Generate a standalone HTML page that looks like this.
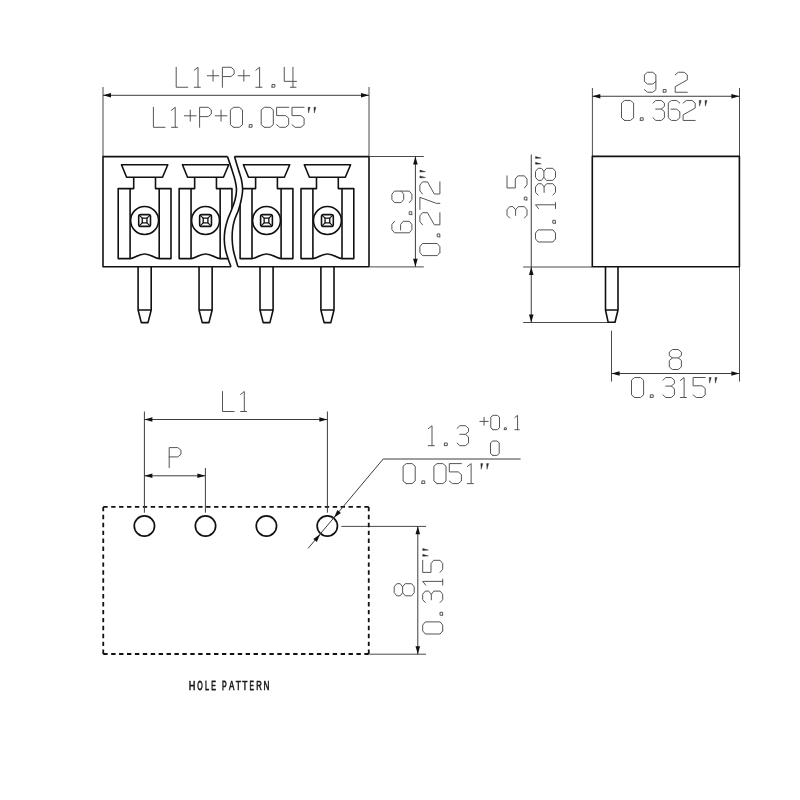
<!DOCTYPE html>
<html><head><meta charset="utf-8"><title>Drawing</title>
<style>
html,body{margin:0;padding:0;background:#fff;}
body{width:800px;height:800px;overflow:hidden;font-family:"Liberation Sans",sans-serif;}
svg{display:block;will-change:transform;}
</style></head><body>
<svg width="800" height="800" viewBox="0 0 800 800">
<rect width="800" height="800" fill="#fff"/>
<line x1="103.00" y1="87.00" x2="103.00" y2="156.00" stroke="#4a4a4a" stroke-width="1.00" />
<line x1="369.00" y1="87.00" x2="369.00" y2="156.00" stroke="#4a4a4a" stroke-width="1.00" />
<line x1="370.00" y1="156.50" x2="423.80" y2="156.50" stroke="#4a4a4a" stroke-width="1.00" />
<line x1="370.00" y1="266.90" x2="423.80" y2="266.90" stroke="#4a4a4a" stroke-width="1.00" />
<line x1="592.40" y1="88.00" x2="592.40" y2="156.00" stroke="#4a4a4a" stroke-width="1.00" />
<line x1="739.50" y1="88.00" x2="739.50" y2="381.50" stroke="#4a4a4a" stroke-width="1.00" />
<line x1="523.20" y1="267.00" x2="592.00" y2="267.00" stroke="#4a4a4a" stroke-width="1.00" />
<line x1="523.20" y1="322.50" x2="608.00" y2="322.50" stroke="#4a4a4a" stroke-width="1.00" />
<line x1="611.50" y1="330.70" x2="611.50" y2="381.50" stroke="#4a4a4a" stroke-width="1.00" />
<line x1="341.30" y1="526.40" x2="426.10" y2="526.40" stroke="#4a4a4a" stroke-width="1.00" />
<line x1="369.50" y1="654.20" x2="426.10" y2="654.20" stroke="#4a4a4a" stroke-width="1.00" />
<defs>
<clipPath id="cl"><path d="M0 100 L227.50 100 L227.50 156.60 C228.25 158.83 230.75 166.10 232.00 170.00C233.25 173.90 234.25 176.67 235.00 180.00C235.75 183.33 236.50 186.67 236.50 190.00C236.50 193.33 235.83 196.67 235.00 200.00C234.17 203.33 232.75 206.67 231.50 210.00C230.25 213.33 228.58 216.67 227.50 220.00C226.42 223.33 225.53 226.67 225.00 230.00C224.47 233.33 224.22 236.67 224.30 240.00C224.38 243.33 224.88 246.92 225.50 250.00C226.12 253.08 227.08 255.70 228.00 258.50C228.92 261.30 230.50 265.42 231.00 266.80 L231.00 340 L0 340 Z"/></clipPath>
<clipPath id="cr"><path d="M500 100 L234.50 100 L234.50 156.60 C235.17 158.83 237.33 166.10 238.50 170.00C239.67 173.90 240.82 176.67 241.50 180.00C242.18 183.33 242.65 186.67 242.60 190.00C242.55 193.33 241.88 196.67 241.20 200.00C240.52 203.33 239.62 206.67 238.50 210.00C237.38 213.33 235.50 216.67 234.50 220.00C233.50 223.33 232.88 226.67 232.50 230.00C232.12 233.33 232.07 236.67 232.20 240.00C232.33 243.33 232.75 246.92 233.30 250.00C233.85 253.08 234.72 255.70 235.50 258.50C236.28 261.30 237.58 265.42 238.00 266.80 L238.00 340 L500 340 Z"/></clipPath>
</defs>
<g fill="none" stroke="#111" stroke-width="1.60" stroke-linejoin="round">
<g clip-path="url(#cl)">
<path d="M260 156.6 L103 156.6 L103 266.8 L260 266.8"/>
<path d="M121.50 164.8 L167.80 164.8 L162.50 177.2 L126.60 177.2 Z"/><path d="M133.70 177.2 L133.70 188.6 L118.20 188.6 L118.20 258.6 L130.10 258.6 C134.20 258.6 138.00 254 144.60 254 C151.20 254 155.00 258.6 159.20 258.6 L171.00 258.6 L171.00 188.6 L155.50 188.6 L155.50 177.2"/><path d="M130.10 188.6 L130.10 258.6 M159.20 188.6 L159.20 258.6"/><circle cx="144.60" cy="220.5" r="13.95"/><rect x="138.70" y="214.60" width="11.80" height="11.80" rx="2.00"/><rect x="142.25" y="218.15" width="4.70" height="4.70" stroke-width="1.35"/><path d="M139.40 215.30 L142.25 218.15 M149.80 215.30 L146.95 218.15 M149.80 225.70 L146.95 222.85 M139.40 225.70 L142.25 222.85" stroke-width="1.2"/><path d="M138.10 266.8 L138.10 310 L141.30 322.6 L148.00 322.6 L151.20 310 L151.20 266.8 M138.10 310 L151.20 310"/>
<path d="M182.45 164.8 L228.75 164.8 L223.45 177.2 L187.55 177.2 Z"/><path d="M194.65 177.2 L194.65 188.6 L179.15 188.6 L179.15 258.6 L191.05 258.6 C195.15 258.6 198.95 254 205.55 254 C212.15 254 215.95 258.6 220.15 258.6 L231.95 258.6 L231.95 188.6 L216.45 188.6 L216.45 177.2"/><path d="M191.05 188.6 L191.05 258.6 M220.15 188.6 L220.15 258.6"/><circle cx="205.55" cy="220.5" r="13.95"/><rect x="199.65" y="214.60" width="11.80" height="11.80" rx="2.00"/><rect x="203.20" y="218.15" width="4.70" height="4.70" stroke-width="1.35"/><path d="M200.35 215.30 L203.20 218.15 M210.75 215.30 L207.90 218.15 M210.75 225.70 L207.90 222.85 M200.35 225.70 L203.20 222.85" stroke-width="1.2"/><path d="M199.05 266.8 L199.05 310 L202.25 322.6 L208.95 322.6 L212.15 310 L212.15 266.8 M199.05 310 L212.15 310"/>
</g>
<g clip-path="url(#cr)">
<path d="M220 156.6 L369 156.6 L369 266.8 L220 266.8"/>
<path d="M243.40 164.8 L289.70 164.8 L284.40 177.2 L248.50 177.2 Z"/><path d="M255.60 177.2 L255.60 188.6 L240.10 188.6 L240.10 258.6 L252.00 258.6 C256.10 258.6 259.90 254 266.50 254 C273.10 254 276.90 258.6 281.10 258.6 L292.90 258.6 L292.90 188.6 L277.40 188.6 L277.40 177.2"/><path d="M252.00 188.6 L252.00 258.6 M281.10 188.6 L281.10 258.6"/><circle cx="266.50" cy="220.5" r="13.95"/><rect x="260.60" y="214.60" width="11.80" height="11.80" rx="2.00"/><rect x="264.15" y="218.15" width="4.70" height="4.70" stroke-width="1.35"/><path d="M261.30 215.30 L264.15 218.15 M271.70 215.30 L268.85 218.15 M271.70 225.70 L268.85 222.85 M261.30 225.70 L264.15 222.85" stroke-width="1.2"/><path d="M260.00 266.8 L260.00 310 L263.20 322.6 L269.90 322.6 L273.10 310 L273.10 266.8 M260.00 310 L273.10 310"/>
<path d="M304.30 164.8 L350.60 164.8 L345.30 177.2 L309.40 177.2 Z"/><path d="M316.50 177.2 L316.50 188.6 L301.00 188.6 L301.00 258.6 L312.90 258.6 C317.00 258.6 320.80 254 327.40 254 C334.00 254 337.80 258.6 342.00 258.6 L353.80 258.6 L353.80 188.6 L338.30 188.6 L338.30 177.2"/><path d="M312.90 188.6 L312.90 258.6 M342.00 188.6 L342.00 258.6"/><circle cx="327.40" cy="220.5" r="13.95"/><rect x="321.50" y="214.60" width="11.80" height="11.80" rx="2.00"/><rect x="325.05" y="218.15" width="4.70" height="4.70" stroke-width="1.35"/><path d="M322.20 215.30 L325.05 218.15 M332.60 215.30 L329.75 218.15 M332.60 225.70 L329.75 222.85 M322.20 225.70 L325.05 222.85" stroke-width="1.2"/><path d="M320.90 266.8 L320.90 310 L324.10 322.6 L330.80 322.6 L334.00 310 L334.00 266.8 M320.90 310 L334.00 310"/>
</g>
<path d="M227.50 156.60C228.25 158.83 230.75 166.10 232.00 170.00C233.25 173.90 234.25 176.67 235.00 180.00C235.75 183.33 236.50 186.67 236.50 190.00C236.50 193.33 235.83 196.67 235.00 200.00C234.17 203.33 232.75 206.67 231.50 210.00C230.25 213.33 228.58 216.67 227.50 220.00C226.42 223.33 225.53 226.67 225.00 230.00C224.47 233.33 224.22 236.67 224.30 240.00C224.38 243.33 224.88 246.92 225.50 250.00C226.12 253.08 227.08 255.70 228.00 258.50C228.92 261.30 230.50 265.42 231.00 266.80"/>
<path d="M234.50 156.60C235.17 158.83 237.33 166.10 238.50 170.00C239.67 173.90 240.82 176.67 241.50 180.00C242.18 183.33 242.65 186.67 242.60 190.00C242.55 193.33 241.88 196.67 241.20 200.00C240.52 203.33 239.62 206.67 238.50 210.00C237.38 213.33 235.50 216.67 234.50 220.00C233.50 223.33 232.88 226.67 232.50 230.00C232.12 233.33 232.07 236.67 232.20 240.00C232.33 243.33 232.75 246.92 233.30 250.00C233.85 253.08 234.72 255.70 235.50 258.50C236.28 261.30 237.58 265.42 238.00 266.80"/>
</g>
<line x1="103.00" y1="95.30" x2="369.00" y2="95.30" stroke="#3c3c3c" stroke-width="1.00" />
<path d="M103.00 95.30 L111.00 93.00 L111.00 97.60 Z" fill="#111"/>
<path d="M369.00 95.30 L361.00 97.60 L361.00 93.00 Z" fill="#111"/>
<g transform="translate(176.20 87.25) rotate(0)"><path d="M0.00 -20.00L0.00 0.00L11.62 0.00M18.06 -17.00L21.81 -20.00L21.81 0.00M18.06 0.00L24.11 0.00M31.04 -11.50L42.66 -11.50M36.85 -6.20L36.85 -17.20M46.20 0.00L46.20 -20.00L54.79 -20.00L57.94 -17.40L57.94 -13.30L54.79 -10.70L46.20 -10.70M61.84 -11.50L73.46 -11.50M67.65 -6.20L67.65 -17.20M79.66 -17.00L83.41 -20.00L83.41 0.00M79.66 0.00L85.71 0.00M95.79 -0.10L98.69 -0.10L98.69 -2.70L95.79 -2.70L95.79 -0.10M108.04 -20.00L108.04 -5.90L120.26 -5.90M116.75 -20.00L116.75 0.00M114.09 0.00L119.78 0.00" fill="none" stroke="#555" stroke-width="1.00" stroke-linejoin="round" stroke-linecap="round"/></g>
<g transform="translate(153.40 127.30) rotate(0)"><path d="M0.00 -20.00L0.00 0.00L11.62 0.00M18.06 -17.00L21.81 -20.00L21.81 0.00M18.06 0.00L24.11 0.00M31.04 -11.50L42.66 -11.50M36.85 -6.20L36.85 -17.20M46.20 0.00L46.20 -20.00L54.79 -20.00L57.94 -17.40L57.94 -13.30L54.79 -10.70L46.20 -10.70M61.84 -11.50L73.46 -11.50M67.65 -6.20L67.65 -17.20M80.15 0.00L85.95 0.00L89.10 -2.60L89.10 -17.40L85.95 -20.00L80.15 -20.00L77.00 -17.40L77.00 -2.60L80.15 0.00M95.79 -0.10L98.69 -0.10L98.69 -2.70L95.79 -2.70L95.79 -0.10M110.95 0.00L116.75 0.00L119.90 -2.60L119.90 -17.40L116.75 -20.00L110.95 -20.00L107.80 -17.40L107.80 -2.60L110.95 0.00M135.30 -20.00L123.20 -20.00L123.20 -11.70L132.15 -11.70L135.30 -9.10L135.30 -2.60L132.15 0.00L126.35 0.00L123.20 -2.60M150.70 -20.00L138.60 -20.00L138.60 -11.70L147.55 -11.70L150.70 -9.10L150.70 -2.60L147.55 0.00L141.75 0.00L138.60 -2.60" fill="none" stroke="#555" stroke-width="1.00" stroke-linejoin="round" stroke-linecap="round"/><path d="M154.70 -20.00 L156.70 -20.00 L155.10 -14.30 ZM160.50 -20.00 L162.50 -20.00 L160.90 -14.30 Z" fill="#2a2a2a" stroke="#2a2a2a" stroke-width="0.4" stroke-linejoin="round"/></g>
<line x1="415.40" y1="156.60" x2="415.40" y2="266.70" stroke="#3c3c3c" stroke-width="1.00" />
<path d="M415.40 156.60 L417.70 164.60 L413.10 164.60 Z" fill="#111"/>
<path d="M415.40 266.70 L413.10 258.70 L417.70 258.70 Z" fill="#111"/>
<g transform="translate(411.90 233.40) rotate(-90)"><path d="M12.10 -17.40L8.95 -20.00L3.75 -20.00L0.60 -17.40L0.60 -2.60L3.75 0.00L8.95 0.00L12.10 -2.60L12.10 -8.70L8.95 -11.30L3.39 -11.30M18.79 -0.10L21.69 -0.10L21.69 -2.70L18.79 -2.70L18.79 -0.10M30.80 -2.60L33.95 0.00L39.15 0.00L42.30 -2.60L42.30 -17.40L39.15 -20.00L33.95 -20.00L30.80 -17.40L30.80 -10.80L33.95 -8.20L39.15 -8.20L42.30 -10.80" fill="none" stroke="#555" stroke-width="1.00" stroke-linejoin="round" stroke-linecap="round"/></g>
<g transform="translate(439.90 255.60) rotate(-90)"><path d="M3.15 0.00L8.95 0.00L12.10 -2.60L12.10 -17.40L8.95 -20.00L3.15 -20.00L0.00 -17.40L0.00 -2.60L3.15 0.00M18.79 -0.10L21.69 -0.10L21.69 -2.70L18.79 -2.70L18.79 -0.10M30.80 -17.40L33.95 -20.00L39.75 -20.00L42.90 -17.40L42.90 -12.40L30.80 -5.60L30.80 0.00L42.90 0.00M46.20 -20.00L58.30 -20.00L52.25 -3.60L52.25 0.00M61.60 -17.40L64.75 -20.00L70.55 -20.00L73.70 -17.40L73.70 -12.40L61.60 -5.60L61.60 0.00L73.70 0.00" fill="none" stroke="#555" stroke-width="1.00" stroke-linejoin="round" stroke-linecap="round"/><path d="M77.70 -20.00 L79.70 -20.00 L78.10 -14.30 ZM83.50 -20.00 L85.50 -20.00 L83.90 -14.30 Z" fill="#2a2a2a" stroke="#2a2a2a" stroke-width="0.4" stroke-linejoin="round"/></g>
<g fill="none" stroke="#111" stroke-width="1.60" stroke-linejoin="round">
<rect x="592.3" y="156.4" width="147.1" height="110.4"/>
<path d="M605.5 266.8 L605.5 310 L608.2 322.3 L615 322.3 L618 310 L618 266.8 M605.5 310 L618 310"/>
</g>
<line x1="592.30" y1="96.25" x2="739.40" y2="96.25" stroke="#3c3c3c" stroke-width="1.00" />
<path d="M592.30 96.25 L600.30 93.95 L600.30 98.55 Z" fill="#111"/>
<path d="M739.40 96.25 L731.40 98.55 L731.40 93.95 Z" fill="#111"/>
<g transform="translate(644.40 92.25) rotate(0)"><path d="M0.00 -2.60L3.15 0.00L8.35 0.00L11.49 -2.60L11.49 -17.40L8.35 -20.00L3.15 -20.00L0.00 -17.40L0.00 -10.80L3.15 -8.20L8.35 -8.20L11.49 -10.80M18.79 -0.10L21.69 -0.10L21.69 -2.70L18.79 -2.70L18.79 -0.10M30.80 -17.40L33.95 -20.00L39.75 -20.00L42.90 -17.40L42.90 -12.40L30.80 -5.60L30.80 0.00L42.90 0.00" fill="none" stroke="#555" stroke-width="1.00" stroke-linejoin="round" stroke-linecap="round"/></g>
<g transform="translate(621.50 120.45) rotate(0)"><path d="M3.15 0.00L8.95 0.00L12.10 -2.60L12.10 -17.40L8.95 -20.00L3.15 -20.00L0.00 -17.40L0.00 -2.60L3.15 0.00M18.79 -0.10L21.69 -0.10L21.69 -2.70L18.79 -2.70L18.79 -0.10M31.53 -17.40L34.31 -20.00L39.75 -20.00L42.90 -17.40L42.90 -14.00L39.75 -11.40L34.19 -11.40M39.75 -11.40L42.90 -8.80L42.90 -2.60L39.75 0.00L34.31 0.00L31.53 -2.60M58.30 -17.40L55.15 -20.00L49.95 -20.00L46.80 -17.40L46.80 -2.60L49.95 0.00L55.15 0.00L58.30 -2.60L58.30 -8.70L55.15 -11.30L49.59 -11.30M61.60 -17.40L64.75 -20.00L70.55 -20.00L73.70 -17.40L73.70 -12.40L61.60 -5.60L61.60 0.00L73.70 0.00" fill="none" stroke="#555" stroke-width="1.00" stroke-linejoin="round" stroke-linecap="round"/><path d="M77.70 -20.00 L79.70 -20.00 L78.10 -14.30 ZM83.50 -20.00 L85.50 -20.00 L83.90 -14.30 Z" fill="#2a2a2a" stroke="#2a2a2a" stroke-width="0.4" stroke-linejoin="round"/></g>
<line x1="531.25" y1="154.50" x2="531.25" y2="322.50" stroke="#3c3c3c" stroke-width="1.00" />
<path d="M531.25 267.00 L533.55 275.00 L528.95 275.00 Z" fill="#111"/>
<path d="M531.25 322.50 L528.95 314.50 L533.55 314.50 Z" fill="#111"/>
<g transform="translate(527.00 218.75) rotate(-90)"><path d="M0.73 -17.40L3.51 -20.00L8.95 -20.00L12.10 -17.40L12.10 -14.00L8.95 -11.40L3.39 -11.40M8.95 -11.40L12.10 -8.80L12.10 -2.60L8.95 0.00L3.51 0.00L0.73 -2.60M18.79 -0.10L21.69 -0.10L21.69 -2.70L18.79 -2.70L18.79 -0.10M42.90 -20.00L30.80 -20.00L30.80 -11.70L39.75 -11.70L42.90 -9.10L42.90 -2.60L39.75 0.00L33.95 0.00L30.80 -2.60" fill="none" stroke="#555" stroke-width="1.00" stroke-linejoin="round" stroke-linecap="round"/></g>
<g transform="translate(555.50 242.00) rotate(-90)"><path d="M3.15 0.00L8.95 0.00L12.10 -2.60L12.10 -17.40L8.95 -20.00L3.15 -20.00L0.00 -17.40L0.00 -2.60L3.15 0.00M18.79 -0.10L21.69 -0.10L21.69 -2.70L18.79 -2.70L18.79 -0.10M33.46 -17.00L37.21 -20.00L37.21 0.00M33.46 0.00L39.51 0.00M46.93 -17.40L49.71 -20.00L55.15 -20.00L58.30 -17.40L58.30 -14.00L55.15 -11.40L49.59 -11.40M55.15 -11.40L58.30 -8.80L58.30 -2.60L55.15 0.00L49.71 0.00L46.93 -2.60M64.75 -11.60L61.60 -13.94L61.60 -17.40L64.75 -20.00L70.55 -20.00L73.70 -17.40L73.70 -13.94L70.55 -11.60L64.75 -11.60L61.60 -9.00L61.60 -2.60L64.75 0.00L70.55 0.00L73.70 -2.60L73.70 -9.00L70.55 -11.60" fill="none" stroke="#555" stroke-width="1.00" stroke-linejoin="round" stroke-linecap="round"/><path d="M77.70 -20.00 L79.70 -20.00 L78.10 -14.30 ZM83.50 -20.00 L85.50 -20.00 L83.90 -14.30 Z" fill="#2a2a2a" stroke="#2a2a2a" stroke-width="0.4" stroke-linejoin="round"/></g>
<line x1="611.60" y1="373.50" x2="739.40" y2="373.50" stroke="#3c3c3c" stroke-width="1.00" />
<path d="M611.60 373.50 L619.60 371.20 L619.60 375.80 Z" fill="#111"/>
<path d="M739.40 373.50 L731.40 375.80 L731.40 371.20 Z" fill="#111"/>
<g transform="translate(669.30 369.50) rotate(0)"><path d="M3.15 -11.60L0.00 -13.94L0.00 -17.40L3.15 -20.00L8.95 -20.00L12.10 -17.40L12.10 -13.94L8.95 -11.60L3.15 -11.60L0.00 -9.00L0.00 -2.60L3.15 0.00L8.95 0.00L12.10 -2.60L12.10 -9.00L8.95 -11.60" fill="none" stroke="#555" stroke-width="1.00" stroke-linejoin="round" stroke-linecap="round"/></g>
<g transform="translate(631.50 397.50) rotate(0)"><path d="M3.15 0.00L8.95 0.00L12.10 -2.60L12.10 -17.40L8.95 -20.00L3.15 -20.00L0.00 -17.40L0.00 -2.60L3.15 0.00M18.79 -0.10L21.69 -0.10L21.69 -2.70L18.79 -2.70L18.79 -0.10M31.53 -17.40L34.31 -20.00L39.75 -20.00L42.90 -17.40L42.90 -14.00L39.75 -11.40L34.19 -11.40M39.75 -11.40L42.90 -8.80L42.90 -2.60L39.75 0.00L34.31 0.00L31.53 -2.60M48.86 -17.00L52.61 -20.00L52.61 0.00M48.86 0.00L54.91 0.00M73.70 -20.00L61.60 -20.00L61.60 -11.70L70.55 -11.70L73.70 -9.10L73.70 -2.60L70.55 0.00L64.75 0.00L61.60 -2.60" fill="none" stroke="#555" stroke-width="1.00" stroke-linejoin="round" stroke-linecap="round"/><path d="M77.70 -20.00 L79.70 -20.00 L78.10 -14.30 ZM83.50 -20.00 L85.50 -20.00 L83.90 -14.30 Z" fill="#2a2a2a" stroke="#2a2a2a" stroke-width="0.4" stroke-linejoin="round"/></g>
<g stroke="#111" stroke-width="1.8" fill="none">
<path d="M103.25 506.90 L368.75 506.90 M103.25 654.00 L368.75 654.00" stroke-dasharray="4.4 3.512"/>
<path d="M103.25 506.90 L103.25 654.00 M368.75 506.90 L368.75 654.00" stroke-dasharray="4.4 3.528"/>
</g>
<circle cx="144.40" cy="526.0" r="10.15" fill="none" stroke="#111" stroke-width="1.7"/>
<circle cx="205.50" cy="526.0" r="10.15" fill="none" stroke="#111" stroke-width="1.7"/>
<circle cx="266.40" cy="526.0" r="10.15" fill="none" stroke="#111" stroke-width="1.7"/>
<circle cx="327.30" cy="526.0" r="10.15" fill="none" stroke="#111" stroke-width="1.7"/>
<line x1="144.40" y1="411.50" x2="144.40" y2="512.70" stroke="#3c3c3c" stroke-width="1.00" />
<line x1="327.40" y1="411.50" x2="327.40" y2="512.70" stroke="#3c3c3c" stroke-width="1.00" />
<line x1="144.40" y1="419.50" x2="327.40" y2="419.50" stroke="#3c3c3c" stroke-width="1.00" />
<path d="M144.40 419.50 L152.40 417.20 L152.40 421.80 Z" fill="#111"/>
<path d="M327.40 419.50 L319.40 421.80 L319.40 417.20 Z" fill="#111"/>
<line x1="205.40" y1="468.00" x2="205.40" y2="512.70" stroke="#3c3c3c" stroke-width="1.00" />
<line x1="144.40" y1="475.80" x2="205.40" y2="475.80" stroke="#3c3c3c" stroke-width="1.00" />
<path d="M144.40 475.80 L152.40 473.50 L152.40 478.10 Z" fill="#111"/>
<path d="M205.40 475.80 L197.40 478.10 L197.40 473.50 Z" fill="#111"/>
<g transform="translate(222.50 411.50) rotate(0)"><path d="M0.00 -20.00L0.00 0.00L11.62 0.00M18.06 -17.00L21.81 -20.00L21.81 0.00M18.06 0.00L24.11 0.00" fill="none" stroke="#555" stroke-width="1.00" stroke-linejoin="round" stroke-linecap="round"/></g>
<g transform="translate(169.20 467.60) rotate(0)"><path d="M0.00 0.00L0.00 -20.00L8.59 -20.00L11.74 -17.40L11.74 -13.30L8.59 -10.70L0.00 -10.70" fill="none" stroke="#555" stroke-width="1.00" stroke-linejoin="round" stroke-linecap="round"/></g>
<path d="M520.6 459.0 L383.2 459.0 L308.1 548.4" fill="none" stroke="#3c3c3c" stroke-width="1"/>
<path d="M334.00 517.70 L337.37 510.09 L340.90 513.04 Z" fill="#111"/>
<path d="M320.20 534.30 L316.83 541.91 L313.30 538.96 Z" fill="#111"/>
<g transform="translate(425.60 445.70) rotate(0)"><path d="M2.66 -17.00L6.41 -20.00L6.41 0.00M2.66 0.00L8.71 0.00M18.79 -0.10L21.69 -0.10L21.69 -2.70L18.79 -2.70L18.79 -0.10M31.53 -17.40L34.31 -20.00L39.75 -20.00L42.90 -17.40L42.90 -14.00L39.75 -11.40L34.19 -11.40M39.75 -11.40L42.90 -8.80L42.90 -2.60L39.75 0.00L34.31 0.00L31.53 -2.60" fill="none" stroke="#555" stroke-width="1.00" stroke-linejoin="round" stroke-linecap="round"/></g>
<g transform="translate(479.70 429.70) rotate(0)"><path d="M0.17 -8.28L8.54 -8.28M4.36 -4.46L4.36 -12.38M13.35 0.00L17.53 0.00L19.80 -1.87L19.80 -12.53L17.53 -14.40L13.35 -14.40L11.09 -12.53L11.09 -1.87L13.35 0.00M24.62 -0.07L26.71 -0.07L26.71 -1.94L24.62 -1.94L24.62 -0.07M35.18 -12.24L37.88 -14.40L37.88 0.00M35.18 0.00L39.54 0.00" fill="none" stroke="#555" stroke-width="1.00" stroke-linejoin="round" stroke-linecap="round"/></g>
<g transform="translate(490.50 455.40) rotate(0)"><path d="M2.27 0.00L6.45 0.00L8.71 -1.87L8.71 -12.53L6.45 -14.40L2.27 -14.40L0.00 -12.53L0.00 -1.87L2.27 0.00" fill="none" stroke="#555" stroke-width="1.00" stroke-linejoin="round" stroke-linecap="round"/></g>
<g transform="translate(403.10 483.60) rotate(0)"><path d="M3.15 0.00L8.95 0.00L12.10 -2.60L12.10 -17.40L8.95 -20.00L3.15 -20.00L0.00 -17.40L0.00 -2.60L3.15 0.00M18.79 -0.10L21.69 -0.10L21.69 -2.70L18.79 -2.70L18.79 -0.10M33.95 0.00L39.75 0.00L42.90 -2.60L42.90 -17.40L39.75 -20.00L33.95 -20.00L30.80 -17.40L30.80 -2.60L33.95 0.00M58.30 -20.00L46.20 -20.00L46.20 -11.70L55.15 -11.70L58.30 -9.10L58.30 -2.60L55.15 0.00L49.35 0.00L46.20 -2.60M64.26 -17.00L68.01 -20.00L68.01 0.00M64.26 0.00L70.31 0.00" fill="none" stroke="#555" stroke-width="1.00" stroke-linejoin="round" stroke-linecap="round"/><path d="M77.70 -20.00 L79.70 -20.00 L78.10 -14.30 ZM83.50 -20.00 L85.50 -20.00 L83.90 -14.30 Z" fill="#2a2a2a" stroke="#2a2a2a" stroke-width="0.4" stroke-linejoin="round"/></g>
<line x1="417.80" y1="526.20" x2="417.80" y2="654.30" stroke="#3c3c3c" stroke-width="1.00" />
<path d="M417.80 526.20 L420.10 534.20 L415.50 534.20 Z" fill="#111"/>
<path d="M417.80 654.30 L415.50 646.30 L420.10 646.30 Z" fill="#111"/>
<g transform="translate(414.20 595.80) rotate(-90)"><path d="M3.15 -11.60L0.00 -13.94L0.00 -17.40L3.15 -20.00L8.95 -20.00L12.10 -17.40L12.10 -13.94L8.95 -11.60L3.15 -11.60L0.00 -9.00L0.00 -2.60L3.15 0.00L8.95 0.00L12.10 -2.60L12.10 -9.00L8.95 -11.60" fill="none" stroke="#555" stroke-width="1.00" stroke-linejoin="round" stroke-linecap="round"/></g>
<g transform="translate(442.70 634.00) rotate(-90)"><path d="M3.15 0.00L8.95 0.00L12.10 -2.60L12.10 -17.40L8.95 -20.00L3.15 -20.00L0.00 -17.40L0.00 -2.60L3.15 0.00M18.79 -0.10L21.69 -0.10L21.69 -2.70L18.79 -2.70L18.79 -0.10M31.53 -17.40L34.31 -20.00L39.75 -20.00L42.90 -17.40L42.90 -14.00L39.75 -11.40L34.19 -11.40M39.75 -11.40L42.90 -8.80L42.90 -2.60L39.75 0.00L34.31 0.00L31.53 -2.60M48.86 -17.00L52.61 -20.00L52.61 0.00M48.86 0.00L54.91 0.00M73.70 -20.00L61.60 -20.00L61.60 -11.70L70.55 -11.70L73.70 -9.10L73.70 -2.60L70.55 0.00L64.75 0.00L61.60 -2.60" fill="none" stroke="#555" stroke-width="1.00" stroke-linejoin="round" stroke-linecap="round"/><path d="M77.70 -20.00 L79.70 -20.00 L78.10 -14.30 ZM83.50 -20.00 L85.50 -20.00 L83.90 -14.30 Z" fill="#2a2a2a" stroke="#2a2a2a" stroke-width="0.4" stroke-linejoin="round"/></g>
<g font-family="Liberation Sans, sans-serif" font-size="13.7" fill="#1a1a1a" stroke="#1a1a1a" stroke-width="0.6">
<text transform="translate(188.63 690.4) scale(0.674 1)" vector-effect="non-scaling-stroke">H</text>
<text transform="translate(197.32 690.4) scale(0.510 1)" vector-effect="non-scaling-stroke">O</text>
<text transform="translate(204.90 690.4) scale(0.516 1)" vector-effect="non-scaling-stroke">L</text>
<text transform="translate(211.16 690.4) scale(0.507 1)" vector-effect="non-scaling-stroke">E</text>
<text transform="translate(222.11 690.4) scale(0.507 1)" vector-effect="non-scaling-stroke">P</text>
<text transform="translate(229.05 690.4) scale(0.587 1)" vector-effect="non-scaling-stroke">A</text>
<text transform="translate(235.81 690.4) scale(0.619 1)" vector-effect="non-scaling-stroke">T</text>
<text transform="translate(242.31 690.4) scale(0.619 1)" vector-effect="non-scaling-stroke">T</text>
<text transform="translate(249.54 690.4) scale(0.480 1)" vector-effect="non-scaling-stroke">E</text>
<text transform="translate(256.25 690.4) scale(0.562 1)" vector-effect="non-scaling-stroke">R</text>
<text transform="translate(263.41 690.4) scale(0.596 1)" vector-effect="non-scaling-stroke">N</text>
</g>
</svg>
</body></html>
